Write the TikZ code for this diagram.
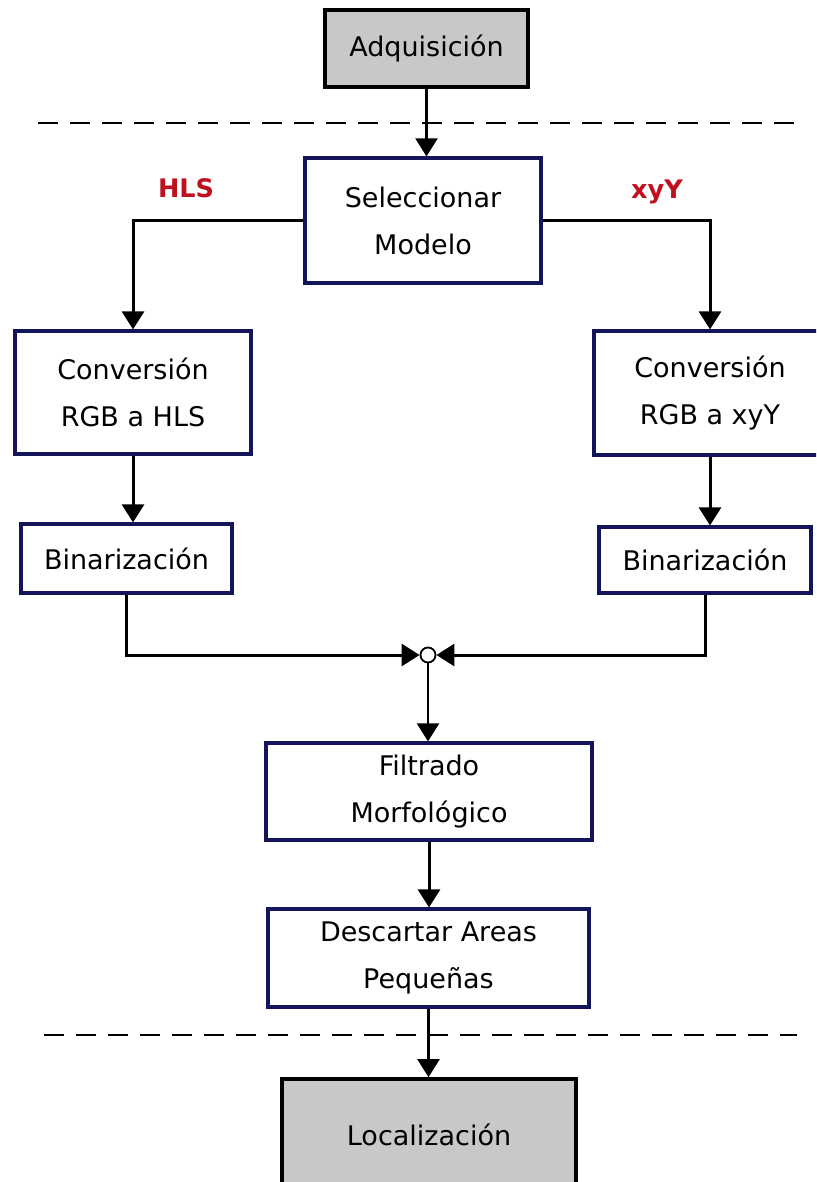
\documentclass[tikz,border=0pt]{standalone}
\usepackage{fontspec}
\setmainfont{DejaVu Sans}
\usetikzlibrary{arrows.meta}

\definecolor{boxnavy}{HTML}{14145A}
\definecolor{termgray}{HTML}{C8C8C8}
\definecolor{labelred}{HTML}{C0101E}

\tikzset{
  procbox/.style={draw=boxnavy, fill=white, line width=3.2pt, inner sep=0pt,
    align=center, font=\fontsize{27}{47}\selectfont},
  termbox/.style={draw=black, fill=termgray, line width=3.6pt, inner sep=0pt,
    align=center, font=\fontsize{27}{47}\selectfont},
  flow/.style={line width=3pt, -{Triangle[width=22pt,length=18pt]}},
  thinflow/.style={line width=2.2pt, -{Triangle[width=22pt,length=18pt]}},
  stagesep/.style={line width=2.2pt, dash pattern=on 20pt off 12pt},
  branchlabel/.style={text=labelred, font=\fontsize{25.5}{27}\bfseries\selectfont},
  junction/.style={circle, draw=black, fill=white, line width=1.8pt,
    minimum size=15pt, inner sep=0pt}
}

\begin{document}
\begin{tikzpicture}[x=1pt, y=-1pt]
  \useasboundingbox (0,0) rectangle (816,1182);
  \clip (0,0) rectangle (816,1182);
  \fill[white] (0,0) rectangle (816,1182);

  % stage separators
  \draw[stagesep] (38,123) -- (797,123);
  \draw[stagesep] (44,1035) -- (797,1035);

  % blocks
  \node[termbox, minimum width=203pt, minimum height=77pt] (adq) at (426.5,48.5) {Adquisición};
  \node[procbox, minimum width=236pt, minimum height=125pt] (sel) at (423,220.5) {Seleccionar\\Modelo};
  \node[procbox, minimum width=236pt, minimum height=123pt] (convL) at (133,392.5) {Conversión\\RGB a HLS};
  \node[procbox, minimum width=232pt, minimum height=124pt] (convR) at (710,393) {Conversión\\RGB a xyY};
  \node[procbox, minimum width=211pt, minimum height=69pt] (binL) at (126.5,558.5) {Binarización};
  \node[procbox, minimum width=212pt, minimum height=66pt] (binR) at (705,560) {Binarización};
  \node[junction] (junc) at (428,655) {};
  \node[procbox, minimum width=326pt, minimum height=97pt] (filt) at (429,791.5) {Filtrado\\Morfológico};
  \node[procbox, minimum width=321pt, minimum height=98pt] (desc) at (428.5,958) {Descartar Areas\\Pequeñas};
  \node[termbox, minimum width=294pt, minimum height=112pt] (loc) at (429,1135) {Localización};

  % branch labels
  \node[branchlabel] (lblHLS) at (186,188) {HLS};
  \node[branchlabel] (lblxyY) at (657,192) {xyY};

  % connectors
  \draw[thinflow] (adq.south) -- (adq.south |- sel.north);
  \draw[flow] (sel.west) -| (convL.north);
  \draw[flow] (sel.east) -| (convR.north);
  \draw[flow] (convL.south) -- (convL.south |- binL.north);
  \draw[flow] (convR.south) -- (convR.south |- binR.north);
  \draw[flow] (binL.south) |- (junc.west);
  \draw[flow] (binR.south) |- (junc.east);
  \draw[thinflow] (junc.south) -- (junc.south |- filt.north);
  \draw[flow] (filt.south) -- (filt.south |- desc.north);
  \draw[thinflow] (desc.south) -- (desc.south |- loc.north);
\end{tikzpicture}
\end{document}
